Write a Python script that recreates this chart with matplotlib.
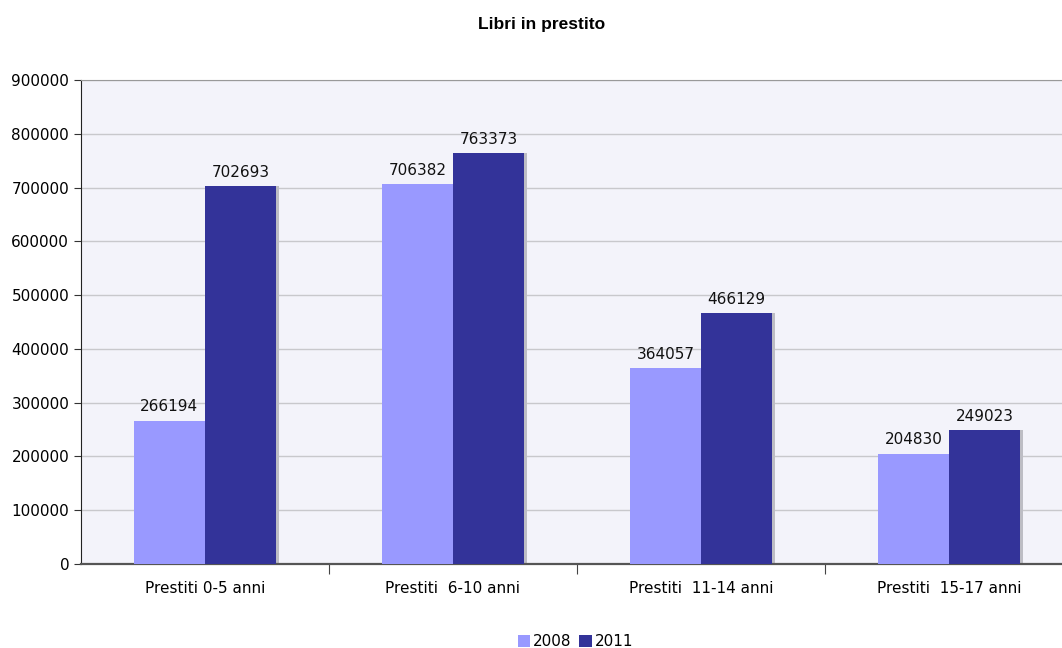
import numpy as np
import matplotlib.pyplot as plt
from matplotlib.ticker import FixedLocator, NullFormatter, FixedFormatter

categories = ['Prestiti 0-5 anni', 'Prestiti  6-10 anni', 'Prestiti  11-14 anni', 'Prestiti  15-17 anni']
series_names = ['2008', '2011']
values_2008 = [266194, 706382, 364057, 204830]
values_2011 = [702693, 763373, 466129, 249023]
colors = ['#9999ff', '#333399']

plt.rcParams['font.family'] = ['DejaVu Sans']

fig = plt.figure(figsize=(10.62, 6.48), dpi=100)
ax = fig.add_axes([0.0763, 0.1296, 0.934, 0.747])
ax.set_facecolor('#f3f3fa')

x = np.arange(len(categories))
w = 0.287

# shadow behind the bars
ax.bar(x + w / 2 + 0.012, values_2011, w, color='#bdbdc4', zorder=2)
b1 = ax.bar(x - w / 2, values_2008, w, color=colors[0], label=series_names[0], zorder=3)
b2 = ax.bar(x + w / 2, values_2011, w, color=colors[1], label=series_names[1], zorder=3)

for bars in (b1, b2):
    for r in bars:
        ax.text(r.get_x() + r.get_width() / 2, r.get_height() + 12000, str(int(r.get_height())),
                ha='center', va='bottom', fontsize=11, color='#111111')

ax.set_xlim(-0.5, 3.5)
ax.set_ylim(0, 900000)
ax.set_yticks(np.arange(0, 900001, 100000))
ax.set_yticklabels([str(v) for v in range(0, 900001, 100000)], fontsize=11)
ax.yaxis.grid(True, color='#c8c8cc', linewidth=1.0, zorder=0)
ax.set_axisbelow(True)

ax.xaxis.set_major_locator(FixedLocator([0.5, 1.5, 2.5]))
ax.xaxis.set_major_formatter(NullFormatter())
ax.xaxis.set_minor_locator(FixedLocator(x))
ax.xaxis.set_minor_formatter(FixedFormatter(categories))
ax.tick_params(axis='x', which='major', length=7, color='#444444', direction='out')
ax.tick_params(axis='x', which='minor', length=0, labelsize=11, pad=12)
ax.tick_params(axis='y', length=5, direction='out', labelsize=11, color='#333333')

ax.spines['right'].set_visible(False)
ax.spines['top'].set_color('#999999')
ax.spines['left'].set_color('#222222')
ax.spines['bottom'].set_color('#555555')
ax.spines['bottom'].set_linewidth(1.6)

fig.text(0.51, 0.962, 'Libri in prestito', ha='center', va='center', fontsize=12.5,
         fontweight='bold', family='Liberation Sans')

fig.legend(handles=[b1, b2], labels=series_names, loc='center', bbox_to_anchor=(0.542, 0.01),
           ncol=2, frameon=False, fontsize=11, handlelength=0.8, handleheight=0.8,
           handletextpad=0.2, columnspacing=0.5, borderaxespad=0)

fig.savefig('out.png', dpi=100)
